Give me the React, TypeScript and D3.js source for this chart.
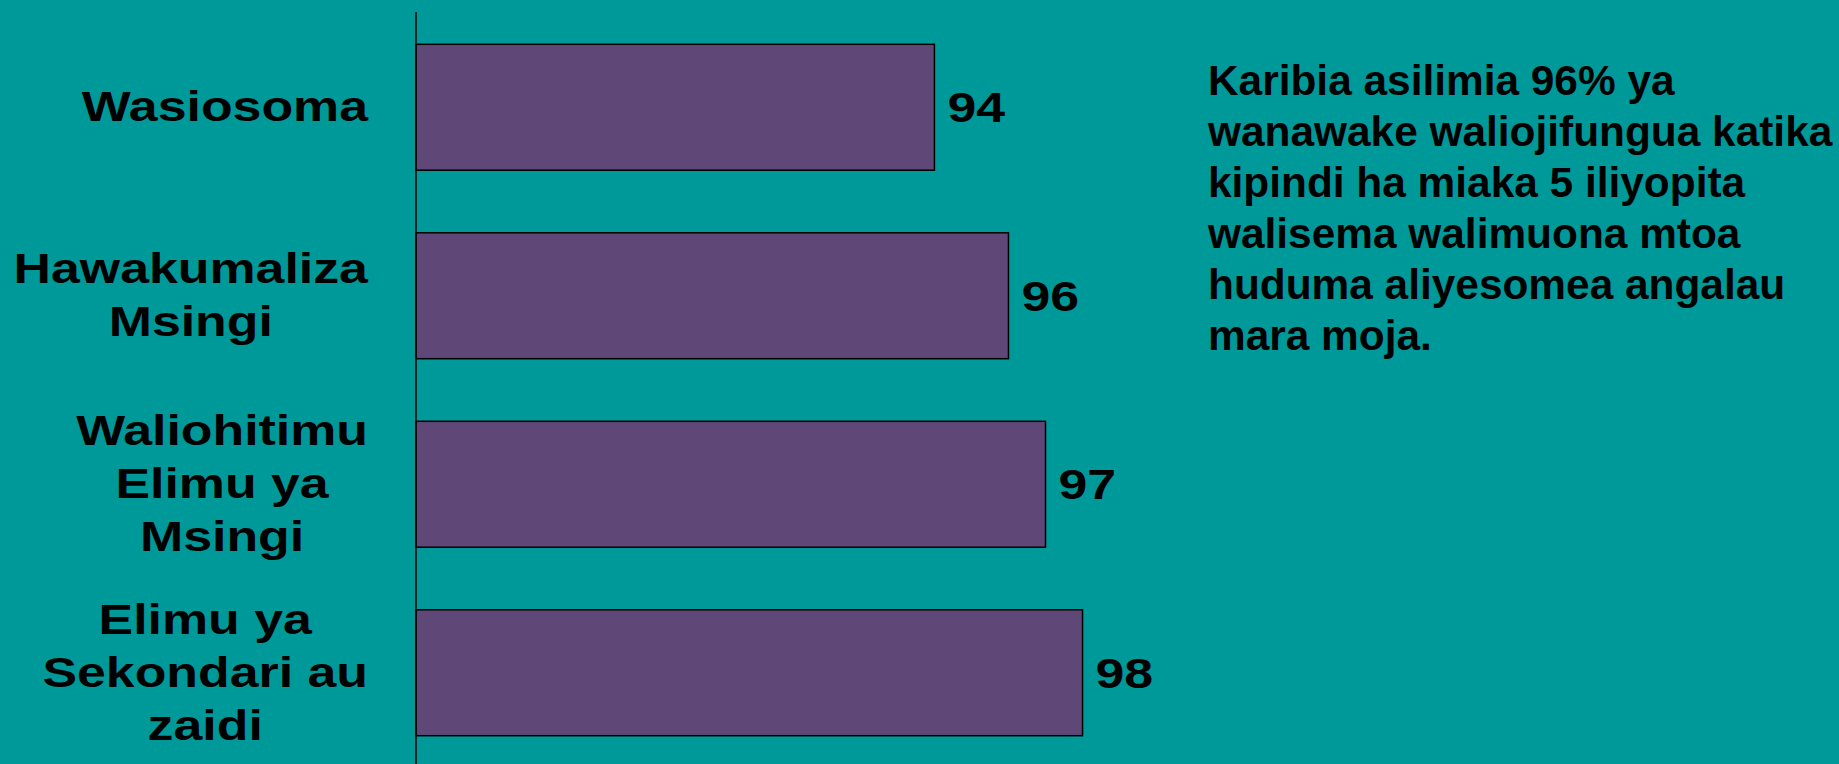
import React from "react";
import * as d3 from "d3";

const categories = ["Wasiosoma", "Hawakumaliza Msingi", "Waliohitimu Elimu ya Msingi", "Elimu ya Sekondari au zaidi"];
const categoryLines = [
  ["Wasiosoma"],
  ["Hawakumaliza", "Msingi"],
  ["Waliohitimu", "Elimu ya", "Msingi"],
  ["Elimu ya", "Sekondari au", "zaidi"],
];
const values = [94, 96, 97, 98];
const noteLines = [
  "Karibia asilimia 96% ya",
  "wanawake waliojifungua katika",
  "kipindi ha miaka 5 iliyopita",
  "walisema walimuona mtoa",
  "huduma aliyesomea angalau",
  "mara moja.",
];

const W = 1839;
const H = 764;
const BG = "#009999";
const BAR = "#5f4777";
const FONT = "'Liberation Sans', Arial, sans-serif";
const LABEL_SIZE = 42.5;
const STRETCH = 1.22;

let ctx: CanvasRenderingContext2D | null = null;
function measure(t: string): number {
  if (!ctx) ctx = document.createElement("canvas").getContext("2d");
  if (!ctx) return t.length * LABEL_SIZE * 0.55;
  ctx.font = `bold ${LABEL_SIZE}px ${FONT}`;
  return ctx.measureText(t).width;
}

export default function App() {
  const x = d3.scaleLinear().domain([80, 100]).range([416, 416 + 20 * 37.03]);
  const y = d3.scaleBand<string>().domain(categories).range([13, 767]).paddingInner(0.332).paddingOuter(0.166);
  const bw = y.bandwidth();
  const lineH = 53;
  const labelRight = 368;

  return (
    <svg width={W} height={H} style={{ position: "absolute", left: 0, top: 0, display: "block" }} fontFamily={FONT} fontWeight="bold">
      <rect x={0} y={0} width={W} height={H} fill={BG} />
      {categories.map((c, i) => {
        const y0 = y(c)!;
        const cy = y0 + bw / 2;
        const lines = categoryLines[i];
        const maxW = Math.max(...lines.map(measure)) * STRETCH;
        const cx = labelRight - maxW / 2;
        const first = cy + 14 - ((lines.length - 1) * lineH) / 2;
        return (
          <g key={c}>
            <rect x={x(80)} y={y0} width={x(values[i]) - x(80)} height={bw} fill={BAR} stroke="#000" strokeWidth={1.5} />
            {lines.map((l, j) => (
              <text key={j} transform={`translate(${cx},${first + j * lineH}) scale(${STRETCH},1)`} textAnchor="middle" fontSize={LABEL_SIZE} fill="#000">
                {l}
              </text>
            ))}
            <text transform={`translate(${x(values[i]) + 13},${cy + 15}) scale(${STRETCH},1)`} fontSize={LABEL_SIZE} fill="#000">
              {values[i]}
            </text>
          </g>
        );
      })}
      <line x1={x(80)} x2={x(80)} y1={12} y2={H} stroke="#000" strokeWidth={1.5} />
      {noteLines.map((l, i) => (
        <text key={i} x={1208} y={95 + i * 51} fontSize={42.4} fill="#000">
          {l}
        </text>
      ))}
    </svg>
  );
}
